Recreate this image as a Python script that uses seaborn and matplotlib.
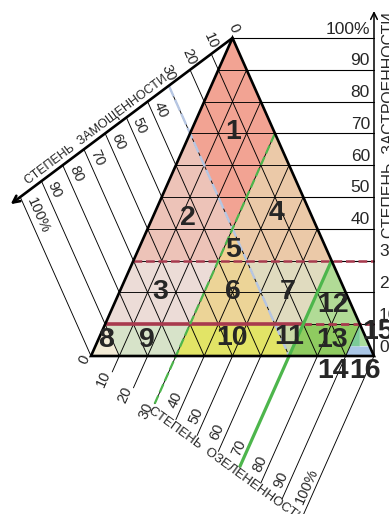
import numpy as np
import pandas as pd
import matplotlib
matplotlib.use("Agg")
import matplotlib.pyplot as plt
from matplotlib.patches import Polygon
from matplotlib import font_manager as fm
import seaborn as sns

# ---------------------------------------------------------------------------
# Data: land-cover classes on a ternary grid.
# Every point is (built-up %, green %); paved % = 100 - built - green.
# ---------------------------------------------------------------------------
TICKS = [0, 10, 20, 30, 40, 50, 60, 70, 80, 90, 100]
TICK_LABELS = ["0", "10", "20", "30", "40", "50", "60", "70", "80", "90", "100%"]

ZONE_IDS = ["1", "2", "3", "4", "5", "6", "7", "8", "9", "10",
            "11", "12", "13", "14", "15", "16"]

ZONE_BOUNDS = {
    "1": [(100, 0), (70, 0), (40, 30), (70, 30)],
    "2": [(70, 0), (30, 0), (30, 30), (40, 30)],
    "3": [(30, 0), (10, 0), (10, 30), (30, 30)],
    "4": [(70, 30), (40, 30), (30, 40), (30, 70)],
    "5": [(40, 30), (30, 30), (30, 40)],
    "6": [(30, 30), (10, 30), (10, 60), (30, 40)],
    "7": [(30, 40), (10, 60), (10, 70), (30, 70)],
    "8": [(10, 0), (0, 0), (0, 10)],
    "9": [(10, 0), (0, 10), (0, 30), (10, 30)],
    "10": [(10, 30), (0, 30), (0, 70), (10, 60)],
    "11": [(10, 60), (0, 70), (10, 70)],
    "12": [(30, 70), (10, 70), (10, 90)],
    "13": [(10, 70), (0, 70), (0, 90), (10, 90)],
    "14": [(10, 90), (3, 90), (3, 93.5)],
    "15": [(10, 90), (3, 93.5), (3, 97)],
    "16": [(3, 90), (0, 90), (0, 100), (3, 97)],
}

ZONE_COLORS = {
    "1": "#f2a393", "2": "#edc3b8", "3": "#ecdcd7", "4": "#ebc9a8",
    "5": "#f1cf92", "6": "#ecd497", "7": "#e0dbbf", "8": "#f3ebd6",
    "9": "#d7e3c9", "10": "#e2e466", "11": "#c9d9a7", "12": "#b1db96",
    "13": "#8fcb60", "14": "#7ccb98", "15": "#a9dc9c", "16": "#a9c6e6",
}

# where each class number is written (built %, green %)
ZONE_LABEL_AT = {
    "1": (70.4, 15.0), "2": (43.4, 12.6), "3": (20.0, 14.4), "4": (45.0, 43.2),
    "5": (33.3, 33.5), "6": (20.0, 40.0), "7": (20.0, 59.6), "8": (5.0, 2.8),
    "9": (5.0, 17.3), "10": (5.7, 47.0), "11": (6.0, 67.0), "12": (16.0, 77.5),
    "13": (5.0, 82.7), "14": (-4.7, 88.0), "15": (7.5, 97.7), "16": (-4.7, 99.0),
}

BUILT_LIMITS = [10, 30]     # thresholds of built-up share
GREEN_LIMITS = [30, 70]     # thresholds of green share
PAVED_LIMITS = [30]         # threshold of paved share

TITLE_PAVED = "СТЕПЕНЬ  ЗАМОЩЕННОСТИ"
TITLE_GREEN = "СТЕПЕНЬ  ОЗЕЛЕНЕННОСТИ"
TITLE_BUILT = "СТЕПЕНЬ  ЗАСТРОЕННОСТИ"

# ---------------------------------------------------------------------------
# Styling
# ---------------------------------------------------------------------------
sns.set_theme(style="white")
names = {f.name for f in fm.fontManager.ttflist}
NARROW = "Liberation Sans Narrow" if "Liberation Sans Narrow" in names else "Liberation Sans"
REG = "Liberation Sans" if "Liberation Sans" in names else "DejaVu Sans"
plt.rcParams["font.family"] = [REG, "DejaVu Sans"]

MAROON = "#a83a4e"
GREEN = "#4db64c"
BLUE = "#b6c6e2"

fig = plt.figure(figsize=(3.89, 5.14), dpi=100)
ax = fig.add_axes([0, 0, 1, 1])

# frame of the diagram: left corner, base width, height (pixels)
X0, Y0, W, H = 91.0, 356.0, 283.0, 318.0
XR = X0 + W


def tp(b, g):
    """(built %, green %) -> plot coordinates."""
    b, g = b / 100.0, g / 100.0
    return X0 + W * (g + b / 2.0), Y0 - H * b


def paved_axis(p):
    p = p / 100.0
    return X0 + W / 2 - 0.75 * W * p, Y0 - H + 0.5 * H * p


def green_axis(g):
    g = g / 100.0
    return X0 + 0.75 * W * g, Y0 + 0.5 * H * g


def unit(v):
    v = np.asarray(v, float)
    return v / np.hypot(*v)


e_paved = unit((0.75 * W, -0.5 * H))         # along paved axis, toward apex
e_green = unit((0.75 * W, 0.5 * H))          # along green axis, away from corner
d_paved = unit((0.25 * W, 0.5 * H))          # paved tick, toward triangle
d_green = unit((0.25 * W, -0.5 * H))         # green tick, toward triangle

# ---- class fills
for zid in ZONE_IDS:
    pts = [tp(b, g) for b, g in ZONE_BOUNDS[zid]]
    ax.add_patch(Polygon(pts, closed=True, facecolor=ZONE_COLORS[zid],
                         edgecolor="none", zorder=1))

# ---- grid and tick lines (drawn with seaborn)
rows = []
seg = 0


def add_seg(p0, p1, kind):
    global seg
    rows.append((p0[0], p0[1], seg, kind))
    rows.append((p1[0], p1[1], seg, kind))
    seg += 1


for k in TICKS[1:-1]:
    add_seg(tp(k, 0), tp(k, 100 - k), "grid")
    add_seg(tp(0, k), tp(100 - k, k), "grid")
    add_seg(tp(0, 100 - k), tp(100 - k, 0), "grid")
for k in TICKS[1:]:
    add_seg(tp(100 - k, 0), paved_axis(k), "tick")
    add_seg(tp(0, k), green_axis(k), "tick")
    add_seg(tp(k, 100 - k), (XR, tp(k, 0)[1]), "right")

lines = pd.DataFrame(rows, columns=["x", "y", "seg", "kind"])
sns.lineplot(data=lines[lines.kind != "right"], x="x", y="y", units="seg",
             estimator=None, sort=False, color="black", lw=0.65, ax=ax,
             legend=False, zorder=2)
sns.lineplot(data=lines[lines.kind == "right"], x="x", y="y", units="seg",
             estimator=None, sort=False, color="black", lw=0.8, ax=ax,
             legend=False, zorder=2)
ax.set_xlim(0, 389)
ax.set_ylim(514, 0)
ax.axis("off")

# ---- class thresholds
b_lo, b_hi = BUILT_LIMITS
g_lo, g_hi = GREEN_LIMITS
p_lo = PAVED_LIMITS[0]

x1, y1 = tp(b_lo, 0)
x2, y2 = tp(b_lo, g_hi)
ax.plot([x1, x2], [y1, y2], color=MAROON, lw=2.6, solid_capstyle="butt", zorder=4)
ax.plot([x2, XR], [y2, y2], color=MAROON, lw=2.0, ls=(0, (3, 1.5)), zorder=4)
x1, y1 = tp(b_hi, 0)
ax.plot([x1, XR], [y1, y1], color=MAROON, lw=1.8, ls=(0, (3.5, 1.5)), zorder=4)

gx0, gy0 = green_axis(g_lo)
gx1, gy1 = tp(100 - g_lo, g_lo)
ax.plot([gx0, gx1], [gy0, gy1], color=GREEN, lw=1.6, ls=(0, (4, 1.6)), zorder=4)
gx0, gy0 = green_axis(g_hi)
gx1, gy1 = tp(100 - g_hi, g_hi)
ax.plot([gx0, gx1], [gy0, gy1], color=GREEN, lw=2.3, solid_capstyle="butt", zorder=4)

px0, py0 = paved_axis(p_lo)
px1, py1 = tp(0, 100 - p_lo)
ax.plot([px0, px1], [py0, py1], color=BLUE, lw=1.7, ls=(0, (5, 1.5)), zorder=3)

# ---- triangle outline
tri = [tp(100, 0), tp(0, 0), tp(0, 100)]
ax.add_patch(Polygon(tri, closed=True, fill=False, edgecolor="black",
                     lw=1.9, joinstyle="miter", zorder=5))

# ---- axes with arrows
arrow = dict(arrowstyle="->", color="black", shrinkA=0, shrinkB=0)
apex = tp(100, 0)
end_p = np.array(paved_axis(100)) - 12 * e_paved
ax.annotate("", xy=end_p, xytext=apex,
            arrowprops=dict(arrow, lw=1.9, mutation_scale=12), zorder=5)
end_g = np.array(green_axis(100)) + 12 * e_green
ax.annotate("", xy=end_g, xytext=tp(0, 0),
            arrowprops=dict(arrow, lw=1.9, mutation_scale=12), zorder=5)
ax.annotate("", xy=(XR, 11), xytext=(XR, Y0),
            arrowprops=dict(arrow, lw=1.1, mutation_scale=12), zorder=5)

# ---- tick labels
for k, lab in zip(TICKS, TICK_LABELS):
    # paved share (upper-left axis)
    a = np.array(paved_axis(k))
    if k >= 40:
        pos = a + 7 * d_paved + 9 * e_paved
        ax.text(*pos, lab, rotation=-66, rotation_mode="anchor", ha="left",
                va="center", fontsize=10.5, zorder=6)
    else:
        pos = a - 3 * d_paved + 5 * e_paved
        ax.text(*pos, lab, rotation=-66, rotation_mode="anchor", ha="right",
                va="center", fontsize=10.5, zorder=6)
    # green share (lower axis)
    a = np.array(green_axis(k))
    if k >= 40:
        pos = a + 7 * d_green - 9 * e_green
        ax.text(*pos, lab, rotation=66, rotation_mode="anchor", ha="left",
                va="center", fontsize=10.5, zorder=6)
    else:
        pos = a - 3 * d_green - 5 * e_green
        ax.text(*pos, lab, rotation=66, rotation_mode="anchor", ha="right",
                va="center", fontsize=10.5, zorder=6)
    # built-up share (right axis)
    yb = tp(k, 0)[1]
    if k >= 40:
        ax.text(XR - 4, yb - 9, lab, ha="right", va="center",
                fontsize=12.5, family=[NARROW, "DejaVu Sans"], zorder=6)
    else:
        ax.text(XR + 5, yb - 9, lab, ha="left", va="center",
                fontsize=12.5, family=[NARROW, "DejaVu Sans"], zorder=6)

# ---- axis titles
t = np.array(apex) + 0.62 * (np.array(paved_axis(100)) - np.array(apex))
t = t + 8 * np.array([-0.6, -0.8])
ax.text(*t, TITLE_PAVED, rotation=36.8, rotation_mode="anchor", ha="center",
        va="center", fontsize=9, zorder=6)
t = np.array(tp(0, 0)) + 0.655 * (np.array(green_axis(100)) - np.array(tp(0, 0)))
t = t + 6 * np.array([-0.6, 0.8])
ax.text(*t, TITLE_GREEN, rotation=-36.0, rotation_mode="anchor", ha="center",
        va="center", fontsize=9.5, zorder=6)
ax.text(390, 125, TITLE_BUILT, rotation=90, rotation_mode="anchor",
        ha="center", va="center", fontsize=11.5, family=[NARROW, "DejaVu Sans"],
        zorder=6)

# ---- class numbers
for zid in ZONE_IDS:
    x, y = tp(*ZONE_LABEL_AT[zid])
    ax.text(x, y, zid, ha="center", va="center", fontsize=20.5,
            fontweight="bold", family=[NARROW, "DejaVu Sans"], zorder=7)

fig.savefig("out.png", dpi=100)
